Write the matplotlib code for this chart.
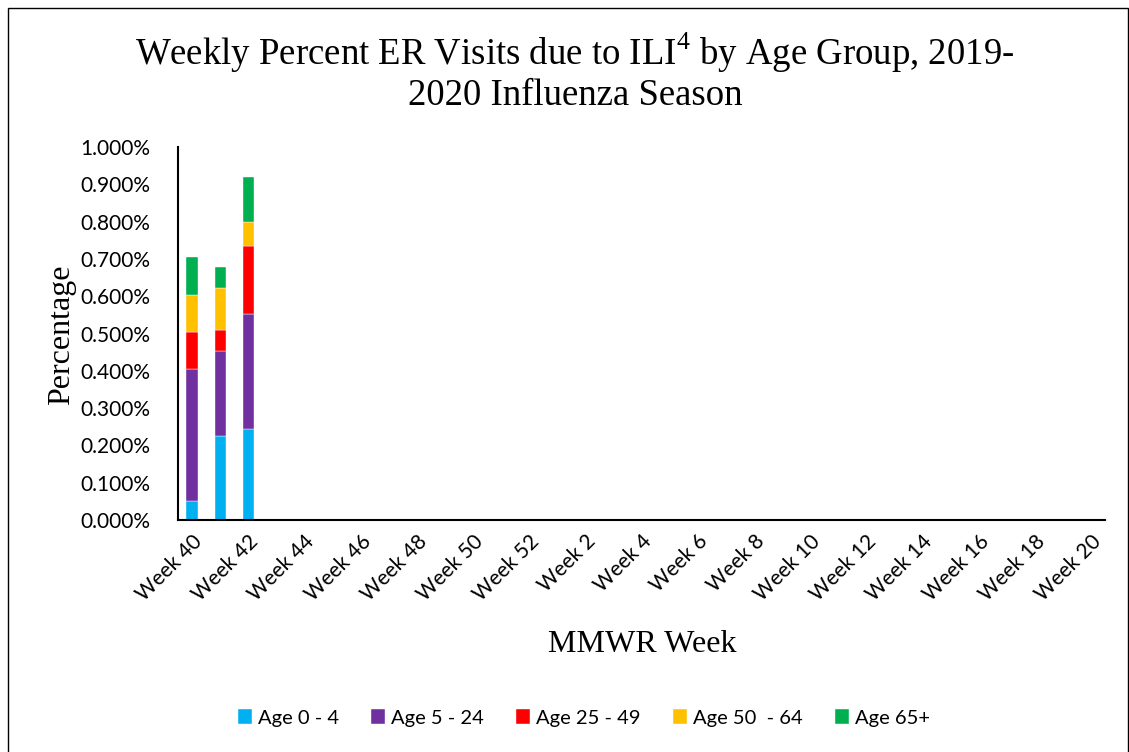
import matplotlib
matplotlib.use("Agg")
import matplotlib.pyplot as plt
from matplotlib.patches import Rectangle
import numpy as np

weeks = [f"Week {w}" for w in list(range(40, 53)) + list(range(1, 21))]
age_groups = ["Age 0 - 4", "Age 5 - 24", "Age 25 - 49", "Age 50  - 64", "Age 65+"]
colors = ["#00B0F0", "#7030A0", "#FF0000", "#FFC000", "#00B050"]
# values (percent) for the first three weeks; rest no data
age_0_4 = [0.051, 0.226, 0.245]
age_5_24 = [0.353, 0.226, 0.307]
age_25_49 = [0.099, 0.057, 0.183]
age_50_64 = [0.101, 0.114, 0.063]
age_65 = [0.102, 0.056, 0.122]
series = [age_0_4, age_5_24, age_25_49, age_50_64, age_65]
yticks = [0.0, 0.1, 0.2, 0.3, 0.4, 0.5, 0.6, 0.7, 0.8, 0.9, 1.0]

plt.rcParams['mathtext.fontset'] = 'custom'
plt.rcParams['mathtext.rm'] = 'Liberation Serif'

fig = plt.figure(figsize=(11.29, 7.52), dpi=100)
fig.patches.append(Rectangle((0.007, -0.01), 0.992, 1.0, transform=fig.transFigure,
                             fill=False, edgecolor='black', linewidth=1.0))
ax = fig.add_axes([178/1129, 1 - 520/752, (1105-178)/1129, (520-147)/752])

n = len(weeks)
x = np.arange(n)
bottom = np.zeros(n)
for name, vals, c in zip(age_groups, series, colors):
    full = np.zeros(n)
    full[:len(vals)] = vals
    ax.bar(x, full, width=0.4, bottom=bottom, color=c, label=name,
           edgecolor='white', linewidth=0.3)
    bottom += full

ax.set_xlim(-0.5, n - 0.5)
ax.set_ylim(0, 1.0)
ax.set_yticks(yticks)
ax.set_yticklabels([f"{v:.3f}%" for v in yticks], fontfamily='Lato', fontsize=15)
ax.set_xticks(x[::2])
ax.set_xticklabels(weeks[::2], rotation=45, ha='right', rotation_mode='anchor',
                   fontfamily='Lato', fontsize=15)
ax.tick_params(axis='y', length=0, pad=20)
ax.tick_params(axis='x', length=0, pad=8)
for s in ['top', 'right']:
    ax.spines[s].set_visible(False)
ax.spines['left'].set_linewidth(1.5)
ax.spines['bottom'].set_linewidth(1.5)

fig.text(575/1129, 1 - 72/752,
         "Weekly Percent ER Visits due to ILI$^{\\mathrm{4}}$ by Age Group, 2019-\n2020 Influenza Season",
         ha='center', va='center', fontfamily='Liberation Serif', fontsize=26.5, linespacing=1.15)
fig.text(62/1129, 1 - 335/752, "Percentage", rotation=90, ha='center', va='center',
         fontfamily='Liberation Serif', fontsize=23)
fig.text(642/1129, 1 - 645/752, "MMWR Week", ha='center', va='center',
         fontfamily='Liberation Serif', fontsize=23)

leg = fig.legend(loc='center', bbox_to_anchor=(584/1129, 1 - 718/752), ncol=5,
                 frameon=False, prop={'family': 'Lato', 'size': 14.5},
                 handlelength=0.7, handleheight=0.7, handletextpad=0.3, columnspacing=1.6)

fig.savefig("out.png", dpi=100)
